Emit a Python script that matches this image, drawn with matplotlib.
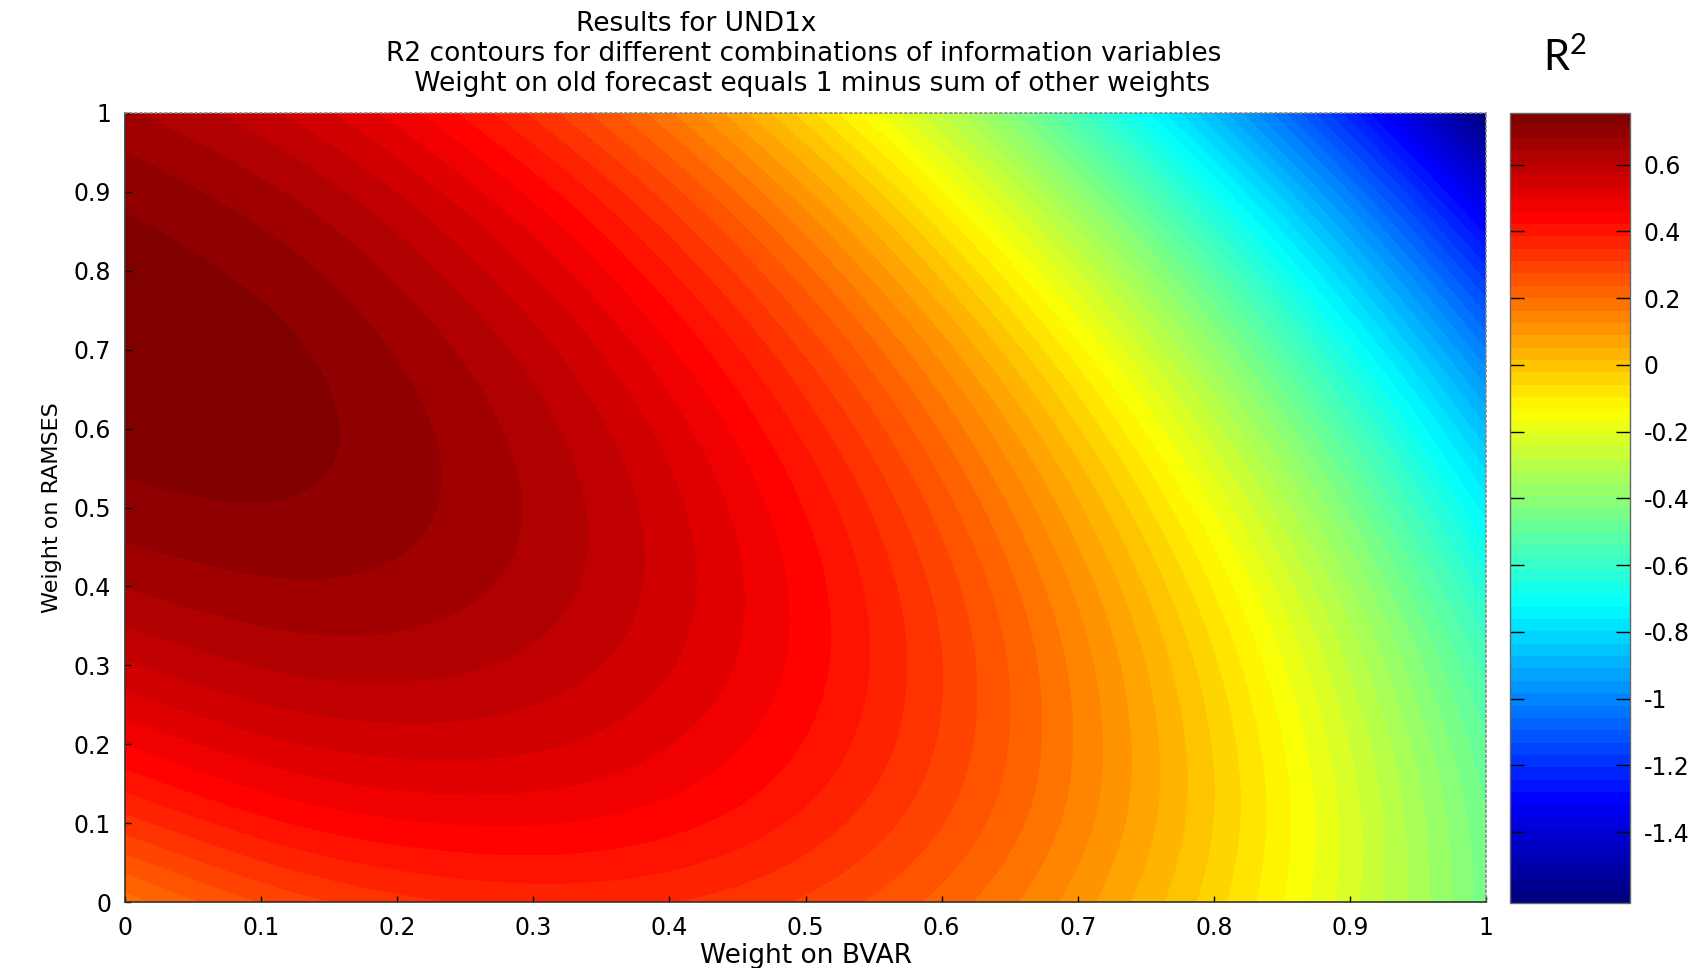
import numpy as np
import matplotlib
matplotlib.use("Agg")
import matplotlib.pyplot as plt
import matplotlib.tri as mtri
from matplotlib.colors import LinearSegmentedColormap

# R2 at a 0.1 grid
# rows: weight on RAMSES (0 -> 1), columns: weight on BVAR (0 -> 1)
w_bvar = [0.0, 0.1, 0.2, 0.3, 0.4, 0.5, 0.6, 0.7, 0.8, 0.9, 1.0]
w_ramses = [0.0, 0.1, 0.2, 0.3, 0.4, 0.5, 0.6, 0.7, 0.8, 0.9, 1.0]
r2 = [
    [0.181, 0.276, 0.335, 0.360, 0.349, 0.304, 0.223, 0.107, -0.043, -0.229, -0.450],
    [0.331, 0.410, 0.453, 0.461, 0.435, 0.373, 0.276, 0.144, -0.023, -0.225, -0.462],
    [0.459, 0.521, 0.548, 0.540, 0.497, 0.419, 0.305, 0.157, -0.026, -0.245, -0.498],
    [0.563, 0.609, 0.620, 0.595, 0.536, 0.442, 0.312, 0.148, -0.052, -0.287, -0.557],
    [0.645, 0.674, 0.669, 0.628, 0.552, 0.442, 0.296, 0.115, -0.101, -0.352, -0.638],
    [0.703, 0.716, 0.694, 0.638, 0.546, 0.419, 0.256, 0.059, -0.173, -0.440, -0.743],
    [0.738, 0.735, 0.697, 0.624, 0.516, 0.372, 0.194, -0.019, -0.268, -0.551, -0.870],
    [0.751, 0.732, 0.677, 0.588, 0.463, 0.303, 0.109, -0.121, -0.386, -0.686, -1.021],
    [0.740, 0.705, 0.634, 0.528, 0.387, 0.211, 0.000, -0.246, -0.527, -0.843, -1.194],
    [0.707, 0.655, 0.568, 0.446, 0.289, 0.096, -0.131, -0.393, -0.691, -1.023, -1.391],
    [0.650, 0.582, 0.479, 0.340, 0.167, -0.042, -0.285, -0.564, -0.878, -1.226, -1.610],
]
r2_low, r2_high = -1.612, 0.755

x_ticks = [0, 0.1, 0.2, 0.3, 0.4, 0.5, 0.6, 0.7, 0.8, 0.9, 1]
x_labels = ["0", "0.1", "0.2", "0.3", "0.4", "0.5", "0.6", "0.7", "0.8", "0.9", "1"]
cb_ticks = [0.6, 0.4, 0.2, 0, -0.2, -0.4, -0.6, -0.8, -1, -1.2, -1.4]
cb_labels = ["0.6", "0.4", "0.2", "0", "-0.2", "-0.4", "-0.6", "-0.8", "-1", "-1.2", "-1.4"]

title_lines = [
    "Results for UND1x",
    "R2 contours for different combinations of information variables",
    " Weight on old forecast equals 1 minus sum of other weights",
]

plt.rcParams["axes.unicode_minus"] = False
plt.rcParams["font.family"] = "DejaVu Sans"

# matlab style jet, 64 colours
jet = LinearSegmentedColormap.from_list(
    "mjet",
    [(0, (0, 0, 0.5)), (1 / 8, (0, 0, 1)), (3 / 8, (0, 1, 1)),
     (5 / 8, (1, 1, 0)), (7 / 8, (1, 0, 0)), (1, (0.5, 0, 0))],
    N=64,
)

W, H = 1704, 968
fig = plt.figure(figsize=(W / 100, H / 100), dpi=100, facecolor="white")
ax = fig.add_axes([125 / W, 66 / H, 1361 / W, 789 / H])
cax = fig.add_axes([1510 / W, 65 / H, 120 / W, 790 / H])

# smooth contours from the coarse grid (matplotlib tri refiner)
X, Y = np.meshgrid(w_bvar, w_ramses)
z = np.array(r2)
tri = mtri.Triangulation(X.ravel(), Y.ravel())
interp = mtri.CubicTriInterpolator(tri, z.ravel(), kind="min_E")
tri_f, z_f = mtri.UniformTriRefiner(tri).refine_field(z.ravel(), triinterpolator=interp, subdiv=3)

levels = np.linspace(r2_low, r2_high, 65)
cf = ax.tricontourf(tri_f, np.clip(z_f, r2_low, r2_high), levels=levels, cmap=jet)

ax.set_xlim(0, 1)
ax.set_ylim(0, 1)
ax.set_xticks(x_ticks)
ax.set_xticklabels(x_labels)
ax.set_yticks(x_ticks)
ax.set_yticklabels(x_labels)
ax.tick_params(direction="in", length=4, width=1, labelsize=17, pad=10,
               top=False, right=False)
for s in ["left", "bottom"]:
    ax.spines[s].set_color("#333333")
    ax.spines[s].set_linewidth(1.2)
for s in ["top", "right"]:
    ax.spines[s].set_color("#888888")
    ax.spines[s].set_linestyle((0, (1, 2)))
    ax.spines[s].set_linewidth(1.2)

ax.set_xlabel("Weight on BVAR", fontsize=19, labelpad=2)
ax.set_ylabel("Weight on RAMSES", fontsize=16, labelpad=8)

cb = fig.colorbar(cf, cax=cax, ticks=cb_ticks)
cb.ax.set_yticklabels(cb_labels)
cb.ax.tick_params(direction="in", length=10, width=1, labelsize=17, pad=10,
                  left=True, right=True)
cb.outline.set_edgecolor("#666666")
cb.outline.set_linewidth(1)

fig.text(696 / W, 1 - 24 / H, title_lines[0], fontsize=19, ha="center", va="center")
fig.text(804 / W, 1 - 54 / H, title_lines[1], fontsize=19, ha="center", va="center")
fig.text(808 / W, 1 - 84 / H, title_lines[2], fontsize=19, ha="center", va="center")
fig.text(1565 / W, 1 - 57 / H, r"R$^{\mathregular{2}}$", fontsize=30,
         family=["Lato", "DejaVu Sans"], ha="center", va="center")

fig.savefig("out.png", dpi=100)
